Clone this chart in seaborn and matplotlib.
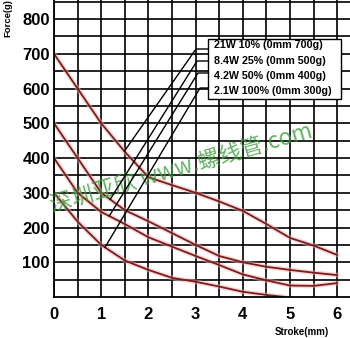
import numpy as np
import pandas as pd
import matplotlib
matplotlib.use("Agg")
import matplotlib.pyplot as plt
from matplotlib.lines import Line2D
import seaborn as sns

# ---- data ----
stroke = [0, 0.5, 1, 1.5, 2, 2.5, 3, 3.5, 4, 4.5, 5, 5.5, 6]
force_700 = [700, 600, 500, 418, 345, 322, 300, 275, 248, 210, 170, 148, 121]
force_500 = [500, 400, 300, 250, 218, 184, 150, 118, 100, 87, 78, 70, 63]
force_400 = [400, 300, 245, 210, 172, 145, 118, 92, 65, 48, 33, 32, 40]
stroke_300 = [0, 0.5, 1, 1.5, 2, 2.5, 3, 3.5, 4, 4.5, 4.9]
force_300 = [300, 217, 150, 105, 78, 55, 44, 30, 15, 6, 0]

legend_labels = ["21W 10% (0mm 700g)", "8.4W 25% (0mm 500g)",
                 "4.2W 50% (0mm 400g)", "2.1W 100% (0mm 300g)"]
leader_x = [1.49, 1.19, 1.17, 1.08]   # stroke where each leader line meets its curve
x_ticks = [0, 1, 2, 3, 4, 5, 6]
y_ticks = [100, 200, 300, 400, 500, 600, 700, 800]
watermark = "深圳亚欣 www.螺线管.com"

series = [(stroke, force_700), (stroke, force_500), (stroke, force_400), (stroke_300, force_300)]

sns.set_style("white")
plt.rcParams['font.family'] = ['Liberation Sans', 'DejaVu Sans']
plt.rcParams['text.color'] = 'black'
plt.rcParams['xtick.color'] = 'black'
plt.rcParams['ytick.color'] = 'black'

W, H = 350, 338
fig = plt.figure(figsize=(W / 100, H / 100), dpi=100)
ax = fig.add_axes([54 / W, 41 / H, (W - 54) / W, 297 / H])

ax.set_xlim(0, 6.27)
ax.set_ylim(0, 855)

# grid
ax.set_xticks(x_ticks)
ax.set_xticklabels([str(t) for t in x_ticks], fontsize=12, fontweight='bold', color='black')
ax.set_xticks(np.arange(0.5, 6.3, 1.0), minor=True)
ax.set_yticks(y_ticks)
ax.set_yticklabels([str(t) for t in y_ticks], fontsize=12, fontweight='bold', color='black')
ax.set_yticks(np.arange(50, 860, 100), minor=True)
ax.grid(True, which='both', color='black', lw=1.2)
ax.tick_params(axis='both', which='both', length=0)
ax.tick_params(axis='x', pad=7)
ax.tick_params(axis='y', pad=3)
for s in ['top', 'right']:
    ax.spines[s].set_visible(False)
for s in ['left', 'bottom']:
    ax.spines[s].set_color('black')
    ax.spines[s].set_linewidth(1.3)
ax.set_axisbelow(True)

# curves
for xs, ys in series:
    df = pd.DataFrame({"x": xs, "y": ys})
    sns.lineplot(data=df, x="x", y="y", ax=ax, color="#f2b0b0", lw=3.4,
                 alpha=0.5, estimator=None, sort=False)
    sns.lineplot(data=df, x="x", y="y", ax=ax, color="#7a1c1c", lw=1.3,
                 estimator=None, sort=False)
ax.set_xlabel("")
ax.set_ylabel("")

# watermark
fig.text(52 / W, 1 - 212 / H, watermark, rotation=16, rotation_mode='anchor',
         ha='left', va='baseline', fontsize=16, color='#3f9f3f', alpha=0.8,
         family=['Noto Sans CJK SC', 'DejaVu Sans'])

# legend box
fig.patches.append(plt.Rectangle((208 / W, 1 - 99 / H), 133 / W, 60 / H,
                                 transform=fig.transFigure, facecolor='white',
                                 edgecolor='black', lw=1.0, zorder=5))
row_y = [45, 61, 76, 91]
for lab, ry in zip(legend_labels, row_y):
    fig.text(214 / W, 1 - ry / H, lab, ha='left', va='center', fontsize=7.7,
             fontweight='bold', zorder=6)

# leader lines
fig.canvas.draw()
stub_y = [49, 61, 73, 88]
stub_x = [196, 197, 198, 200]
for (xs, ys), lx, sy, sx in zip(series, leader_x, stub_y, stub_x):
    ly = np.interp(lx, xs, ys)
    px, py = ax.transData.transform((lx, ly))
    xs_line = [208 / W, sx / W, px / W]
    ys_line = [1 - sy / H, 1 - sy / H, py / H]
    fig.lines.append(Line2D(xs_line, ys_line, transform=fig.transFigure,
                            color='black', lw=1.0, zorder=4))

fig.text(7.5 / W, 1 - 18 / H, "Force(g)", rotation=90, ha='center', va='center',
         fontsize=6.8, fontweight='bold')
fig.text(302 / W, 1 - 332 / H, "Stroke(mm)", ha='center', va='center',
         fontsize=7, fontweight='bold')

fig.savefig("out.png", dpi=100)
